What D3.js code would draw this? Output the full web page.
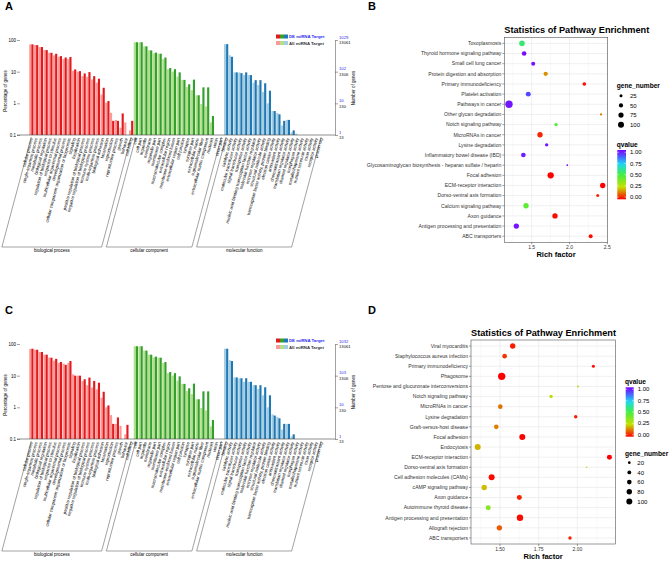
<!DOCTYPE html>
<html>
<head>
<meta charset="utf-8">
<script src="https://cdn.jsdelivr.net/npm/d3@7"></script>
<style>
body { margin: 0; background: #fff; }
text { font-family: "Liberation Sans", Arial, sans-serif; }
</style>
</head>
<body>
<div id="fig"></div>
<script>
// ---- GO terms (panels A and C) ----
var bpTerms = ["cellular process", "single-organism process", "metabolic process", "biological regulation",
  "regulation of biological process", "response to stimulus", "multicellular organismal process",
  "developmental process", "cellular component organization or biogenesis", "signaling", "localization",
  "positive regulation of biological process", "negative regulation of biological process",
  "immune system process", "multi-organism process", "biological adhesion", "locomotion", "reproduction",
  "reproductive process", "growth", "behavior", "cell killing"];
var ccTerms = ["cell", "cell part", "organelle", "membrane", "organelle part", "membrane part",
  "macromolecular complex", "extracellular region", "membrane-enclosed lumen", "extracellular region part",
  "cell junction", "synapse", "synapse part", "extracellular matrix", "supramolecular fiber",
  "extracellular matrix component", "nucleoid", "virion", "virion part"];
var mfTerms = ["binding", "catalytic activity", "molecular transducer activity", "signal transducer activity",
  "transporter activity", "nucleic acid binding transcription factor activity", "molecular function regulator",
  "enzyme regulator activity", "structural molecule activity", "transcription factor activity, protein binding",
  "electron carrier activity", "antioxidant activity", "chemoattractant activity", "translation regulator activity",
  "channel regulator activity", "morphogen activity", "metallochaperone activity", "nutrient reservoir activity",
  "toxin activity", "receptor activity", "protein tag"];

// percentage of genes, panel A
var aBpDE  = [73, 69, 60, 48, 39.5, 36.7, 31, 28, 29, 11.8, 10.4, 8.8, 9.7, 7.2, 6, 3.1, 1.18, 0.28, 0.28, 0.48, 0, 0.28];
var aBpAll = [72.6, 69, 59.7, 48, 39.5, 32.7, 29.5, 25, 25, 10.7, 10, 7.2, 6.9, 5.7, 4.5, 1.9, 1.05, 0.5, 0.3, 0.17, 0.25, 0.14];
var aCcDE  = [85, 85, 63, 47, 40, 37, 28, 13, 12, 9.5, 5.5, 4, 5.6, 1.8, 3.2, 3.2, 0.4, 0, 0];
var aCcAll = [85, 85, 63, 47, 38, 37, 25, 12, 10, 7, 5.5, 3.3, 2.6, 1.8, 0.95, 0.8, 0.25, 0, 0];
var aMfDE  = [74, 29.5, 9.5, 9, 9.5, 7.8, 5.4, 5.4, 4.3, 2.5, 0.57, 0.45, 0.28, 0.3, 0.14, 0, 0, 0, 0, 0, 0];
var aMfAll = [74, 33, 9.5, 9.5, 7.8, 7.8, 4.5, 3.8, 2.3, 1.0, 0.57, 0.5, 0.2, 0.3, 0.12, 0.11, 0, 0, 0, 0, 0];
// percentage of genes, panel C
var cBpDE  = [71, 66, 56, 46, 37, 34, 27, 22, 29, 10, 10, 7.7, 8.7, 6.8, 6, 3.1, 1.15, 0.3, 0.48, 0, 0.28, 0];
var cBpAll = [70, 66, 56, 46, 37, 30, 25.5, 24, 25, 11, 10, 6.8, 5, 4.2, 3.7, 2, 1.0, 0.57, 0.3, 0.26, 0.14, 0];
var cCcDE  = [85, 85, 62, 46, 40, 37, 27, 13, 12, 9.5, 5.5, 4, 5.6, 1.8, 3.2, 3.2, 0.4, 0, 0];
var cCcAll = [85, 85, 62, 46, 38, 37, 25, 12, 10, 7, 5.5, 3.3, 2.6, 1.8, 0.95, 0.8, 0.25, 0, 0];
var cMfDE  = [71, 29, 8.8, 8.3, 8.3, 6.4, 5, 5, 4.3, 2.4, 0.55, 0.45, 0.3, 0.3, 0.14, 0, 0, 0, 0, 0, 0];
var cMfAll = [71, 31, 8.8, 8.3, 6.4, 6.4, 5, 3.8, 2.4, 1.0, 0.6, 0.5, 0.2, 0.3, 0.12, 0.1, 0, 0, 0, 0, 0];

var pctTicks = [0.1, 1, 10, 100];
var aDeCounts = ["1", "10", "102", "1029"];
var cDeCounts = ["1", "10", "103", "1032"];
var allCounts = ["13", "130", "1306", "13061"];
var goGroups = ["biological process", "cellular component", "molecular function"];

// ---- KEGG enrichment (panels B and D) ----
var bPathways = ["Toxoplasmosis", "Thyroid hormone signaling pathway", "Small cell lung cancer",
  "Protein digestion and absorption", "Primary immunodeficiency", "Platelet activation", "Pathways in cancer",
  "Other glycan degradation", "Notch signaling pathway", "MicroRNAs in cancer", "Lysine degradation",
  "Inflammatory bowel disease (IBD)", "Glycosaminoglycan biosynthesis - heparan sulfate / heparin",
  "Focal adhesion", "ECM-receptor interaction", "Dorso-ventral axis formation", "Calcium signaling pathway",
  "Axon guidance", "Antigen processing and presentation", "ABC transporters"];
var bRich  = [1.372, 1.40, 1.52, 1.685, 2.196, 1.455, 1.20, 2.417, 1.822, 1.61, 1.698, 1.39, 1.971, 1.751, 2.439, 2.373, 1.425, 1.808, 1.297, 2.28];
var bGenes = [85, 60, 44, 52, 37, 69, 150, 15, 31, 79, 31, 60, 8, 111, 79, 25, 79, 79, 79, 44];
var bQ     = [0.56, 0.98, 0.98, 0.16, 0.01, 0.9, 0.97, 0.14, 0.47, 0.04, 0.97, 0.96, 0.99, 0.0, 0.0, 0.04, 0.45, 0.01, 0.97, 0.01];
var bSizeLegend = [25, 50, 75, 100];

var dPathways = ["Viral myocarditis", "Staphylococcus aureus infection", "Primary immunodeficiency", "Phagosome",
  "Pentose and glucuronate interconversions", "Notch signaling pathway", "MicroRNAs in cancer",
  "Lysine degradation", "Graft-versus-host disease", "Focal adhesion", "Endocytosis",
  "ECM-receptor interaction", "Dorso-ventral axis formation", "Cell adhesion molecules (CAMs)",
  "cAMP signaling pathway", "Axon guidance", "Autoimmune thyroid disease",
  "Antigen processing and presentation", "Allograft rejection", "ABC transporters"];
var dRich  = [1.582, 1.53, 2.103, 1.511, 2.004, 1.83, 1.502, 1.989, 1.476, 1.644, 1.356, 2.207, 2.06, 1.446, 1.398, 1.625, 1.424, 1.629, 1.496, 1.952];
var dGenes = [81, 59, 25, 150, 11, 32, 59, 32, 59, 100, 100, 69, 7, 100, 81, 69, 69, 114, 81, 32];
var dQ     = [0.03, 0.06, 0.01, 0.0, 0.3, 0.28, 0.13, 0.03, 0.14, 0.0, 0.2, 0.0, 0.3, 0.01, 0.21, 0.04, 0.37, 0.01, 0.1, 0.04];
var dSizeLegend = [20, 40, 60, 80, 100];
var qLegend = [1, 0.75, 0.5, 0.25, 0];


var svg = d3.select("#fig").append("svg")
  .attr("width", 669)
  .attr("height", 561);

var darkCols = ["#e31a1c", "#33a02c", "#1f78b4"];
var lightCols = ["#fb9a99", "#b2df8a", "#a6cee3"];

function drawGO(dy, bpDE, bpAll, ccDE, ccAll, mfDE, mfAll, deCounts) {
  var g = svg.append("g").attr("transform", "translate(0," + dy + ")");
  var terms = bpTerms.concat(ccTerms, mfTerms);
  var de = bpDE.concat(ccDE, mfDE);
  var all = bpAll.concat(ccAll, mfAll);
  var grp = terms.map(function(t, i) {
    return i < bpTerms.length ? 0 : (i < bpTerms.length + ccTerms.length ? 1 : 2);
  });

  var x = d3.scaleBand().domain(d3.range(terms.length))
    .range([29, 29 + terms.length * 4.75]).paddingInner(0.1).paddingOuter(0.05);
  var sub = d3.scaleBand().domain(["all", "de"]).range([0, x.bandwidth()]);
  var y = d3.scaleLog().domain([0.1, 100]).range([135, 40]);

  // bars
  [["all", all, lightCols], ["de", de, darkCols]].forEach(function(s) {
    g.append("g").selectAll("rect")
      .data(d3.range(terms.length).filter(function(i) { return s[1][i] > 0.1; }))
      .enter().append("rect")
      .attr("x", function(i) { return x(i) + sub(s[0]); })
      .attr("y", function(i) { return y(s[1][i]); })
      .attr("width", sub.bandwidth())
      .attr("height", function(i) { return y(0.1) - y(s[1][i]); })
      .attr("fill", function(i) { return s[2][grp[i]]; });
  });

  // left axis
  var la = g.append("g").attr("transform", "translate(20,0)")
    .call(d3.axisLeft(y).tickValues(pctTicks).tickFormat(d3.format("~g")).tickSize(3).tickPadding(1));
  la.select(".domain").remove();
  la.attr("font-size", 4.5).attr("font-family", null);
  la.selectAll("line").attr("stroke", "#444").attr("stroke-width", 0.5);

  g.append("line").attr("x1", 17).attr("x2", 335).attr("y1", y(0.1)).attr("y2", y(0.1))
    .attr("stroke", "#444").attr("stroke-width", 0.6);

  // right axis
  var ra = g.append("g").attr("transform", "translate(335,0)")
    .call(d3.axisRight(y).tickValues(pctTicks).tickSize(3).tickSizeOuter(0).tickFormat(""));
  ra.selectAll("line, path").attr("stroke", "#444").attr("stroke-width", 0.5);
  pctTicks.forEach(function(t, i) {
    g.append("text").attr("x", 339).attr("y", y(t) - 1.3).attr("font-size", 4.2)
      .attr("fill", "#2b2bf0").text(deCounts[i]);
    g.append("text").attr("x", 339).attr("y", y(t) + 4.4).attr("font-size", 4.2)
      .attr("fill", "#111").text(allCounts[i]);
  });

  g.append("text").attr("transform", "translate(7,91) rotate(-90)")
    .attr("text-anchor", "middle").attr("font-size", 4.5).text("Percentage of genes");
  g.append("text").attr("transform", "translate(355,88) rotate(-90)")
    .attr("text-anchor", "middle").attr("font-size", 4.5).text("Number of genes");

  // legend
  [0, 1, 2].forEach(function(k) {
    g.append("rect").attr("x", 276 + k * 4).attr("y", 34.5).attr("width", 4).attr("height", 4).attr("fill", darkCols[k]);
    g.append("rect").attr("x", 276 + k * 4).attr("y", 41).attr("width", 4).attr("height", 4).attr("fill", lightCols[k]);
  });
  g.append("text").attr("x", 289).attr("y", 38.3).attr("font-size", 4.3).attr("font-weight", "bold")
    .attr("fill", "#2b2bf0").text("DE miRNA Target");
  g.append("text").attr("x", 289).attr("y", 44.8).attr("font-size", 4.3).attr("font-weight", "bold")
    .attr("fill", "#333").text("All miRNA Target");

  // term labels
  var ang = -75, slant = Math.tan(15 * Math.PI / 180);
  g.append("g").selectAll("text").data(terms).enter().append("text")
    .attr("transform", function(d, i) {
      return "translate(" + (x(i) + x.bandwidth() / 2) + ",138) rotate(" + ang + ")";
    })
    .attr("text-anchor", "end").attr("dy", "0.35em").attr("font-size", 4.3)
    .text(function(d) { return d; });

  // group brackets
  var start = 0;
  [bpTerms.length, ccTerms.length, mfTerms.length].forEach(function(n, k) {
    var x0 = x(start) + x.bandwidth() / 2, x1 = x(start + n - 1) + x.bandwidth() / 2;
    var yb = 247, d = (yb - 137) * slant;
    g.append("path")
      .attr("d", "M" + x0 + ",137L" + (x0 - d) + "," + yb + "L" + (x1 - d) + "," + yb + "L" + x1 + ",137")
      .attr("fill", "none").attr("stroke", "#444").attr("stroke-width", 0.5);
    g.append("text").attr("x", (x0 + x1) / 2 - d).attr("y", 251.5).attr("text-anchor", "middle")
      .attr("font-size", 4.5).text(goGroups[k]);
    start += n;
  });
}

var size = d3.scaleSqrt().domain([0, 100]).range([0, 3]);
var qColor = d3.scaleLinear()
  .domain([0, 0.25, 0.5, 0.72, 0.87, 1])
  .range(["#ff0000", "#c4e000", "#44ee44", "#1fd6f5", "#4a5cff", "#8000ff"]);

function drawBubble(c) {
  var g = svg.append("g");
  var x = d3.scaleLinear().domain(c.xDomain).range([c.l, c.r]);
  var y = d3.scalePoint().domain(c.names).range([c.t, c.b]).padding(0.6);

  g.append("rect").attr("x", c.l).attr("y", c.t).attr("width", c.r - c.l).attr("height", c.b - c.t).attr("fill", "#fff");
  g.selectAll(".minor").data(c.minor).enter().append("line")
    .attr("x1", x).attr("x2", x).attr("y1", c.t).attr("y2", c.b)
    .attr("stroke", "#efefef").attr("stroke-width", 0.35);
  g.selectAll(".majx").data(c.major).enter().append("line")
    .attr("x1", x).attr("x2", x).attr("y1", c.t).attr("y2", c.b)
    .attr("stroke", "#e6e6e6").attr("stroke-width", 0.6);
  g.selectAll(".majy").data(c.names).enter().append("line")
    .attr("x1", c.l).attr("x2", c.r).attr("y1", y).attr("y2", y)
    .attr("stroke", "#e6e6e6").attr("stroke-width", 0.6);

  g.selectAll("circle.pt").data(c.names).enter().append("circle")
    .attr("cx", function(d, i) { return x(c.rich[i]); })
    .attr("cy", function(d) { return y(d); })
    .attr("r", function(d, i) { return size(c.genes[i]); })
    .attr("fill", function(d, i) { return qColor(c.q[i]); });

  g.append("rect").attr("x", c.l).attr("y", c.t).attr("width", c.r - c.l).attr("height", c.b - c.t)
    .attr("fill", "none").attr("stroke", "#555").attr("stroke-width", 0.6);

  // axes
  g.selectAll(".yt").data(c.names).enter().append("line")
    .attr("x1", c.l - 2).attr("x2", c.l).attr("y1", y).attr("y2", y).attr("stroke", "#444").attr("stroke-width", 0.5);
  g.selectAll(".yl").data(c.names).enter().append("text")
    .attr("x", c.l - 3).attr("y", y).attr("dy", "0.35em").attr("text-anchor", "end")
    .attr("font-size", 5.1).attr("fill", "#333").text(function(d) { return d; });
  g.selectAll(".xt").data(c.major).enter().append("line")
    .attr("x1", x).attr("x2", x).attr("y1", c.b).attr("y2", c.b + 2).attr("stroke", "#444").attr("stroke-width", 0.5);
  g.selectAll(".xl").data(c.major).enter().append("text")
    .attr("x", x).attr("y", c.b + 6.8).attr("text-anchor", "middle")
    .attr("font-size", 5).attr("fill", "#333").text(c.fmt);

  g.append("text").attr("x", (c.l + c.r) / 2).attr("y", c.b + 15).attr("text-anchor", "middle")
    .attr("font-size", 7.5).attr("font-weight", "bold").text("Rich factor");
  g.append("text").attr("x", c.l).attr("y", c.titleY)
    .attr("font-size", 9.2).attr("font-weight", "bold").text("Statistics of Pathway Enrichment");

  // size legend
  g.append("text").attr("x", c.legX).attr("y", c.sizeTitleY).attr("font-size", 6.6).attr("font-weight", "bold").text("gene_number");
  c.sizeVals.forEach(function(v, i) {
    var yy = c.sizeY0 + i * 9.7;
    g.append("circle").attr("cx", c.dotX).attr("cy", yy).attr("r", size(v)).attr("fill", "#000");
    g.append("text").attr("x", c.labX).attr("y", yy).attr("dy", "0.35em").attr("font-size", 6).text(v);
  });

  // colour bar
  var id = "grad" + c.id;
  var grad = svg.append("defs").append("linearGradient").attr("id", id)
    .attr("x1", 0).attr("y1", 1).attr("x2", 0).attr("y2", 0);
  d3.range(0, 1.001, 0.05).forEach(function(t) {
    grad.append("stop").attr("offset", t).attr("stop-color", qColor(t));
  });
  g.append("text").attr("x", c.legX).attr("y", c.qTitleY).attr("font-size", 6.6).attr("font-weight", "bold").text("qvalue");
  g.append("rect").attr("x", c.barX).attr("y", c.barT).attr("width", c.barW).attr("height", c.barB - c.barT)
    .attr("fill", "url(#" + id + ")");
  var qy = d3.scaleLinear().domain([0, 1]).range([c.q0Y, c.q1Y]);
  qLegend.forEach(function(v) {
    g.append("line").attr("x1", c.barX).attr("x2", c.barX + 1.6).attr("y1", qy(v)).attr("y2", qy(v)).attr("stroke", "#fff").attr("stroke-width", 0.5);
    g.append("line").attr("x1", c.barX + c.barW - 1.6).attr("x2", c.barX + c.barW).attr("y1", qy(v)).attr("y2", qy(v)).attr("stroke", "#fff").attr("stroke-width", 0.5);
    g.append("text").attr("x", c.qLabX).attr("y", qy(v)).attr("dy", "0.35em").attr("font-size", 6).text(d3.format(".2f")(v));
  });
}

drawGO(0, aBpDE, aBpAll, aCcDE, aCcAll, aMfDE, aMfAll, aDeCounts);
drawGO(304, cBpDE, cBpAll, cCcDE, cCcAll, cMfDE, cMfAll, cDeCounts);

drawBubble({
  id: "B", names: bPathways, rich: bRich, genes: bGenes, q: bQ,
  l: 504.3, r: 607.7, t: 37.3, b: 242.3,
  xDomain: [1.138, 2.505], major: [1.5, 2, 2.5], minor: [1.25, 1.75, 2.25], fmt: d3.format(".1f"),
  titleY: 33.3, legX: 616.7,
  sizeVals: bSizeLegend, sizeTitleY: 88, sizeY0: 95.7, dotX: 621, labX: 630,
  qTitleY: 146.5, barX: 617.3, barW: 8.7, barT: 150, barB: 199.3, q1Y: 152.3, q0Y: 197, qLabX: 630
});

drawBubble({
  id: "D", names: dPathways, rich: dRich, genes: dGenes, q: dQ,
  l: 471, r: 615.3, t: 340, b: 544,
  xDomain: [1.3127, 2.2448], major: [1.5, 1.75, 2], minor: [1.375, 1.625, 1.875, 2.125], fmt: d3.format(".2f"),
  titleY: 335.5, legX: 625,
  sizeVals: dSizeLegend, sizeTitleY: 455.5, sizeY0: 462.7, dotX: 629.3, labX: 637.3,
  qTitleY: 384.3, barX: 625.7, barW: 8, barT: 387.3, barB: 436.7, q1Y: 389.3, q0Y: 434.7, qLabX: 637.7
});

// panel letters
[["A", 5, 10], ["B", 368, 10], ["C", 5, 314], ["D", 368, 314]].forEach(function(p) {
  svg.append("text").attr("x", p[1]).attr("y", p[2])
    .attr("font-family", "'Liberation Serif', 'Times New Roman', serif")
    .attr("font-weight", "bold").attr("font-size", 11).text(p[0]);
});
</script>
</body>
</html>
